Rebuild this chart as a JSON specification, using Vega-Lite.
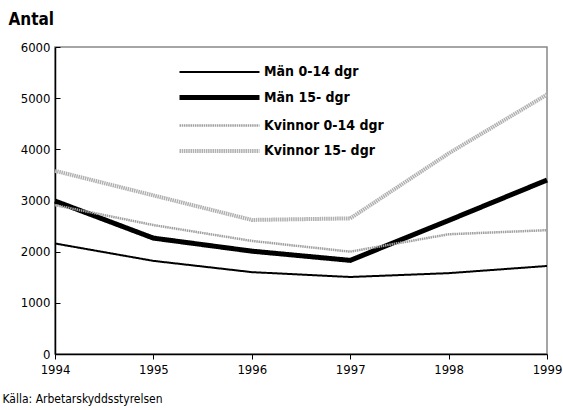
{
  "$schema": "https://vega.github.io/schema/vega-lite/v6.json",
  "width": 492,
  "height": 307,
  "autosize": {"type": "none"},
  "padding": {"left": 55, "top": 47, "right": 16, "bottom": 56},
  "background": "white",
  "config": {
    "font": "Liberation Sans Narrow, DejaVu Sans Condensed, sans-serif",
    "view": {"stroke": "#888888", "strokeWidth": 1.5}
  },
  "data": {
    "values": [
      {"year": 1994, "serie": "Män 0-14 dgr", "antal": 2160},
      {"year": 1995, "serie": "Män 0-14 dgr", "antal": 1820},
      {"year": 1996, "serie": "Män 0-14 dgr", "antal": 1600},
      {"year": 1997, "serie": "Män 0-14 dgr", "antal": 1505},
      {"year": 1998, "serie": "Män 0-14 dgr", "antal": 1580},
      {"year": 1999, "serie": "Män 0-14 dgr", "antal": 1720},
      {"year": 1994, "serie": "Män 15- dgr", "antal": 2990},
      {"year": 1995, "serie": "Män 15- dgr", "antal": 2265},
      {"year": 1996, "serie": "Män 15- dgr", "antal": 2010},
      {"year": 1997, "serie": "Män 15- dgr", "antal": 1830},
      {"year": 1998, "serie": "Män 15- dgr", "antal": 2610},
      {"year": 1999, "serie": "Män 15- dgr", "antal": 3400},
      {"year": 1994, "serie": "Kvinnor 0-14 dgr", "antal": 2910},
      {"year": 1995, "serie": "Kvinnor 0-14 dgr", "antal": 2520},
      {"year": 1996, "serie": "Kvinnor 0-14 dgr", "antal": 2210},
      {"year": 1997, "serie": "Kvinnor 0-14 dgr", "antal": 2000},
      {"year": 1998, "serie": "Kvinnor 0-14 dgr", "antal": 2340},
      {"year": 1999, "serie": "Kvinnor 0-14 dgr", "antal": 2420},
      {"year": 1994, "serie": "Kvinnor 15- dgr", "antal": 3580},
      {"year": 1995, "serie": "Kvinnor 15- dgr", "antal": 3100},
      {"year": 1996, "serie": "Kvinnor 15- dgr", "antal": 2620},
      {"year": 1997, "serie": "Kvinnor 15- dgr", "antal": 2650},
      {"year": 1998, "serie": "Kvinnor 15- dgr", "antal": 3920},
      {"year": 1999, "serie": "Kvinnor 15- dgr", "antal": 5070}
    ]
  },
  "mark": {"type": "line", "strokeCap": "butt", "strokeJoin": "miter"},
  "encoding": {
    "x": {
      "field": "year",
      "type": "quantitative",
      "scale": {"domain": [1994, 1999], "nice": false, "zero": false},
      "axis": {
        "values": [1994, 1995, 1996, 1997, 1998, 1999],
        "format": "d",
        "grid": false,
        "domainColor": "black",
        "domainWidth": 1.5,
        "tickColor": "black",
        "tickSize": 5,
        "labelFontSize": 13,
        "labelColor": "black",
        "labelPadding": 4,
        "labelFlush": false,
        "title": "Källa: Arbetarskyddsstyrelsen",
        "titleFontSize": 12,
        "titleFontWeight": "normal",
        "titleColor": "black",
        "titleAnchor": "start",
        "titleAlign": "left",
        "titleBaseline": "alphabetic",
        "titleX": -53,
        "titleY": 48
      }
    },
    "y": {
      "field": "antal",
      "type": "quantitative",
      "scale": {"domain": [0, 6000], "nice": false},
      "axis": {
        "values": [0, 1000, 2000, 3000, 4000, 5000, 6000],
        "format": "d",
        "grid": false,
        "domainColor": "black",
        "domainWidth": 1.5,
        "tickColor": "black",
        "tickSize": -5,
        "labelFontSize": 13,
        "labelColor": "black",
        "labelPadding": 10,
        "title": "Antal",
        "titleAngle": 0,
        "titleFontSize": 17,
        "titleFontWeight": "bold",
        "titleColor": "black",
        "titleAlign": "left",
        "titleBaseline": "alphabetic",
        "titleX": -47,
        "titleY": -23
      }
    },
    "color": {
      "field": "serie",
      "type": "nominal",
      "scale": {
        "domain": ["Män 0-14 dgr", "Män 15- dgr", "Kvinnor 0-14 dgr", "Kvinnor 15- dgr"],
        "range": ["black", "black", "#a0a0a0", "#b0b0b0"]
      },
      "legend": {
        "title": null,
        "orient": "none",
        "legendX": 122,
        "legendY": 14,
        "symbolType": "M-1,0H7",
        "symbolSize": 400,
        "symbolFillColor": "transparent",
        "labelFontSize": 14,
        "labelFontWeight": "bold",
        "labelColor": "black",
        "labelOffset": 62,
        "rowPadding": 6
      }
    },
    "strokeWidth": {
      "field": "serie",
      "type": "nominal",
      "scale": {
        "type": "ordinal",
        "domain": ["Män 0-14 dgr", "Män 15- dgr", "Kvinnor 0-14 dgr", "Kvinnor 15- dgr"],
        "range": [2, 5, 2.5, 4]
      },
      "legend": null
    },
    "strokeDash": {
      "field": "serie",
      "type": "nominal",
      "scale": {
        "domain": ["Män 0-14 dgr", "Män 15- dgr", "Kvinnor 0-14 dgr", "Kvinnor 15- dgr"],
        "range": [[1, 0], [1, 0], [1.5, 0.7], [1.5, 0.7]]
      },
      "legend": null
    }
  }
}
